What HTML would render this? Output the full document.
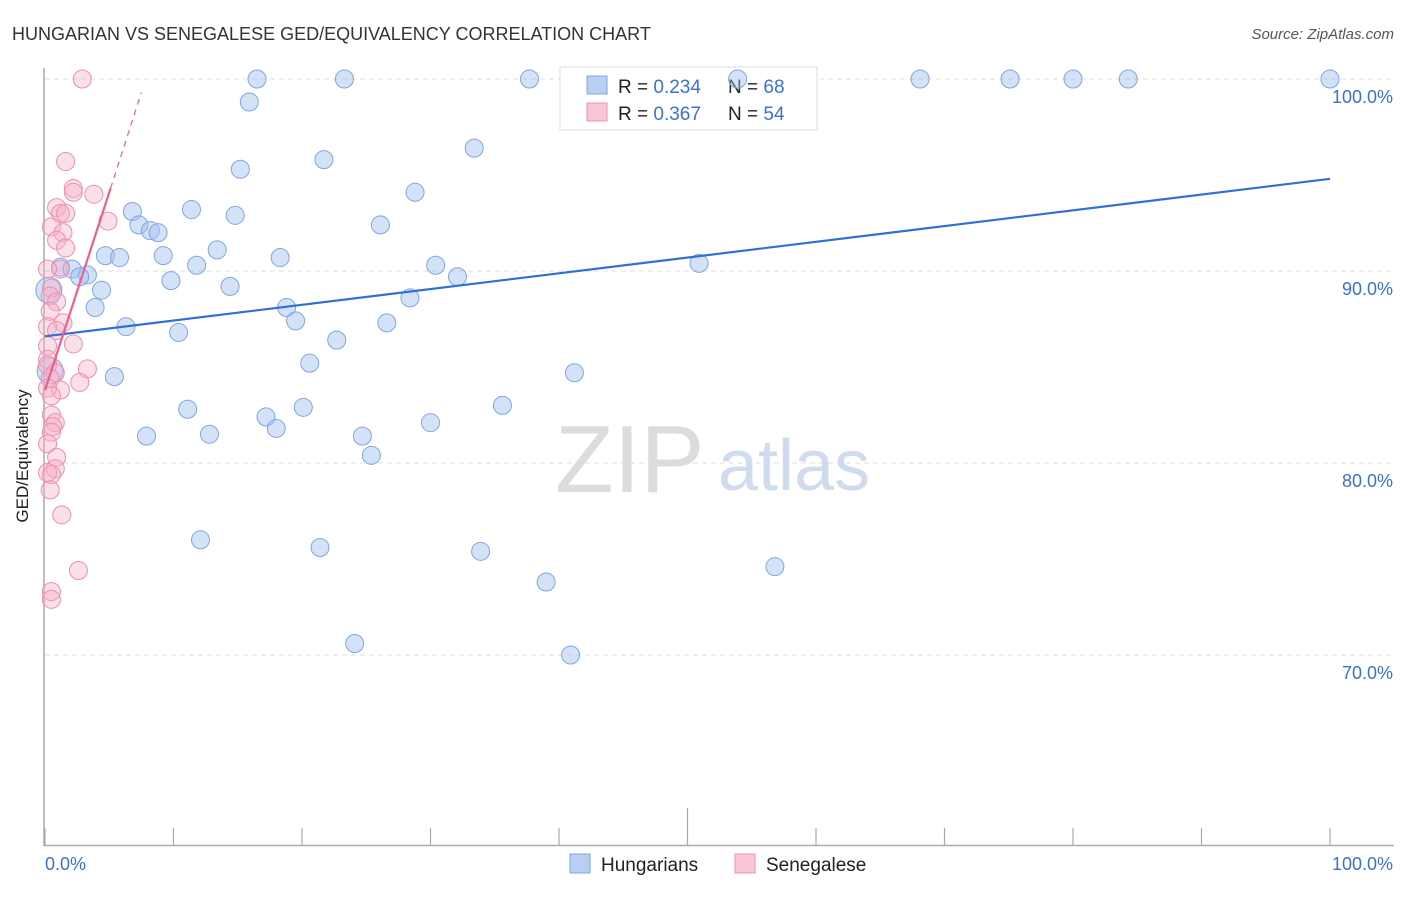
<!DOCTYPE html>
<html><head><meta charset="utf-8"><style>
body{margin:0;background:#fff;font-family:"Liberation Sans",sans-serif;}
svg text{font-family:"Liberation Sans",sans-serif;}
</style></head><body>
<svg id="c" width="1406" height="892" xmlns="http://www.w3.org/2000/svg">
<text x="12" y="40" font-size="18" fill="#333">HUNGARIAN VS SENEGALESE GED/EQUIVALENCY CORRELATION CHART</text>
<text x="1394" y="39" font-size="15" fill="#555" font-style="italic" text-anchor="end">Source: ZipAtlas.com</text>
<g id="grid"></g>
<text x="555" y="492" font-size="96" fill="#dcdcdc" font-family="Liberation Serif,serif">ZIP</text>
<text x="718" y="490" font-size="72" fill="#cfdcf0">atlas</text>
<line x1="44" y1="68" x2="44" y2="846" stroke="#aaa" stroke-width="1.5"/>
<line x1="44" y1="845.5" x2="1394" y2="845.5" stroke="#aaa" stroke-width="1.5"/>
<g id="ticks"></g>
<g>
<rect x="560" y="67" width="257" height="63" fill="#fff" stroke="#ddd"/>
<rect x="587" y="76" width="20" height="18" fill="#b7cff3" stroke="#7fa6e0"/>
<rect x="587" y="103" width="20" height="18" fill="#f9c6d6" stroke="#ee8fad"/>
<text x="618" y="93" font-size="19" fill="#222">R = <tspan fill="#3a72d0">0.234</tspan></text>
<text x="728" y="93" font-size="19" fill="#222">N = <tspan fill="#3a72d0">68</tspan></text>
<text x="618" y="120" font-size="19" fill="#222">R = <tspan fill="#3a72d0">0.367</tspan></text>
<text x="728" y="120" font-size="19" fill="#222">N = <tspan fill="#3a72d0">54</tspan></text>
</g>
<g id="pts"></g>
<g id="lines"></g>
<text x="28" y="456" font-size="17" fill="#222" transform="rotate(-90 28 456)" text-anchor="middle">GED/Equivalency</text>
<text x="45" y="870" font-size="18" fill="#3a72d0">0.0%</text>
<text x="1393" y="870" font-size="18" fill="#3a72d0" text-anchor="end">100.0%</text>
<g>
<rect x="570" y="854" width="20" height="19" fill="#b7cff3" stroke="#7fa6e0"/>
<text x="601" y="871" font-size="19" fill="#222">Hungarians</text>
<text x="766" y="871" font-size="19" fill="#222">Senegalese</text>
<rect x="735" y="854" width="20" height="19" fill="#f9c6d6" stroke="#ee8fad"/>
</g>
</svg>
<script>
const yTicks=[100,90,80,70];
const yTickLabels=["100.0%","90.0%","80.0%","70.0%"];
const blueX=[0.3,0.4,1.2,2.1,3.3,2.7,4.4,3.9,4.7,5.8,6.3,5.4,6.8,7.3,8.2,8.8,9.2,9.8,10.4,11.1,11.4,11.8,12.8,7.9,12.1,13.4,14.4,14.8,15.2,15.9,16.5,17.2,18.0,18.3,18.8,19.5,20.1,20.6,21.7,21.4,22.7,23.3,24.1,24.7,25.4,26.1,26.6,28.4,28.8,30.0,30.4,32.1,33.4,33.9,35.6,37.7,39.0,40.9,41.2,50.9,53.9,56.8,68.1,75.1,80.0,84.3,100];
const blueY=[89.0,84.8,90.2,90.1,89.8,89.7,89.0,88.1,90.8,90.7,87.1,84.5,93.1,92.4,92.1,92.0,90.8,89.5,86.8,82.8,93.2,90.3,81.5,81.4,76.0,91.1,89.2,92.9,95.3,98.8,100,82.4,81.8,90.7,88.1,87.4,82.9,85.2,95.8,75.6,86.4,100,70.6,81.4,80.4,92.4,87.3,88.6,94.1,82.1,90.3,89.7,96.4,75.4,83.0,100,73.8,70.0,84.7,90.4,100,74.6,100,100,100,100,100];
const blueR=[13,13];
const pinkX=[2.9,1.6,2.2,2.2,3.8,0.9,1.2,1.6,4.9,0.5,1.4,0.9,1.6,1.2,0.2,0.5,0.4,0.9,0.4,1.4,0.2,0.9,2.2,0.2,0.2,0.2,3.3,0.8,0.4,2.7,1.2,0.2,0.5,0.5,0.8,0.6,0.5,0.2,0.9,0.8,0.2,0.5,0.4,1.3,2.6,0.5,0.5];
const pinkY=[100,95.7,94.3,94.1,94.0,93.3,93.0,93.0,92.6,92.3,92.0,91.6,91.2,90.1,90.1,89.1,88.7,88.4,87.9,87.3,87.1,86.9,86.2,86.1,85.4,85.1,84.9,84.7,84.4,84.2,83.8,83.9,83.5,82.5,82.1,81.9,81.6,81.0,80.3,79.7,79.5,79.4,78.6,77.3,74.4,73.3,72.9];
const blueTrend=[0,86.6,100,94.8];
const pinkTrend=[0,83.8,5.1,94.3,7.5,99.3];
const NS="http://www.w3.org/2000/svg";
const X=v=>45+v*12.85, Y=v=>79+(100-v)*19.2;
function mk(t,a,p){const e=document.createElementNS(NS,t);for(const k in a)e.setAttribute(k,a[k]);p.appendChild(e);return e;}
const grid=document.getElementById('grid');
yTicks.forEach((t,i)=>{
 const l=mk('line',{x1:45,x2:1393,y1:Y(t),y2:Y(t),stroke:'#ddd','stroke-dasharray':'5,4'},grid);
 
 
 const tx=mk('text',{x:1393,y:Y(t)+24,'font-size':18,fill:'#3a72d0','text-anchor':'end'},grid);
 tx.textContent=yTickLabels[i];
 
 
});
const ticks=document.getElementById('ticks');
for(let i=0;i<=10;i++){const x=X(i*10);const l=mk('line',{x1:x,x2:x,y1:845,y2:i==5?808:828,stroke:'#aaa','stroke-width':1.2},ticks);
 
 }
const pts=document.getElementById('pts');
blueX.forEach((v,i)=>{const c=mk('circle',{cx:X(v),cy:Y(blueY[i]),r:blueR[i]||9,fill:'rgba(160,190,240,0.45)',stroke:'#7fa6e0','stroke-width':1},pts);
 
 });
pinkX.forEach((v,i)=>{const c=mk('circle',{cx:X(v),cy:Y(pinkY[i]),r:9,fill:'rgba(245,175,200,0.4)',stroke:'#ee8fad','stroke-width':1},pts);
 
 });
const lines=document.getElementById('lines');
const bl=mk('line',{x1:X(blueTrend[0]),y1:Y(blueTrend[1]),x2:X(blueTrend[2]),y2:Y(blueTrend[3]),stroke:'#2f6fd6','stroke-width':2.2},lines);


const pl=mk('line',{x1:X(pinkTrend[0]),y1:Y(pinkTrend[1]),x2:X(pinkTrend[2]),y2:Y(pinkTrend[3]),stroke:'#e8608f','stroke-width':2.2},lines);


const pd=mk('line',{x1:X(pinkTrend[2]),y1:Y(pinkTrend[3]),x2:X(pinkTrend[4]),y2:Y(pinkTrend[5]),stroke:'#e8608f','stroke-width':1.2,'stroke-dasharray':'6,5'},lines);


</script>
</body></html>
